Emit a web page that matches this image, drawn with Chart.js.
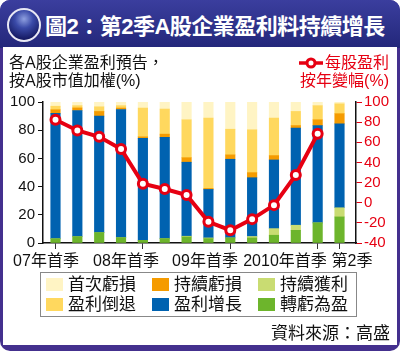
<!DOCTYPE html>
<html>
<head>
<meta charset="utf-8">
<script src="https://cdn.jsdelivr.net/npm/chart.js@4/dist/chart.umd.min.js"></script>
<style>
  body { margin: 0; background: #fff; }
  #frame { position: relative; width: 400px; height: 351px; background: #44308e; border-radius: 10px; overflow: hidden;
    font-family: 'Liberation Sans', 'Noto Sans CJK TC', sans-serif; }
  #bar { position: absolute; left: 0; top: 0; width: 400px; height: 48px; background: linear-gradient(#3b3e9e, #23277a); }
  #panel { position: absolute; left: 3px; top: 47px; width: 394px; height: 298px; background: #fff; }
  #ball { position: absolute; left: 7px; top: 8px; width: 30px; height: 30px; border-radius: 50%; border: 2px solid #e8e8f4;
    background: radial-gradient(circle at 50% 30%, #8fa0e0 0%, #3a4aa8 35%, #141860 80%); }
  #title { position: absolute; left: 45px; top: 8px; color: #fff; font-weight: bold; font-size: 22px; letter-spacing: -0.5px; white-space: nowrap; }
  canvas { position: absolute; left: 0; top: 0; }
  .txt { position: absolute; white-space: nowrap; font-size: 16px; line-height: 18px; }
  #lt { left: 9px; top: 54px; color: #111; }
  #rt { right: 11px; top: 54px; color: #e60012; text-align: right; }
  #legend { position: absolute; left: 40px; top: 272px; width: 315px; height: 43px; border: 1px solid #888; background: #fff; }
  .item { position: absolute; font-size: 17px; line-height: 20px; color: #111; }
  .sw { display: inline-block; width: 17px; height: 13px; margin-right: 5px; vertical-align: -1px; }
  #src { position: absolute; right: 10px; top: 319px; font-size: 17px; color: #111; }
</style>
</head>
<body>
<div id="frame">
  <div id="bar"></div>
  <div id="panel"></div>
  <div id="ball"></div>
  <div id="title">圖2：第2季A股企業盈利料持續增長</div>
  <canvas id="myChart" width="400" height="351"></canvas>
  <div class="txt" id="lt">各A股企業盈利預告，<br>按A股市值加權(%)</div>
  <div class="txt" id="rt"><svg width="24" height="12" style="vertical-align:-1px;margin-right:2px"><line x1="0" y1="6" x2="24" y2="6" stroke="#e60012" stroke-width="3.5"/><circle cx="12" cy="6" r="4" fill="#fff" stroke="#e60012" stroke-width="3"/></svg>每股盈利<br>按年變幅(%)</div>
  <div id="legend"></div>
  <div id="src">資料來源：高盛</div>
</div>
<script>
const quarters = ["07Q1", "07Q2", "07Q3", "07Q4", "08Q1", "08Q2", "08Q3", "08Q4",
  "09Q1", "09Q2", "09Q3", "09Q4", "10Q1", "10Q2"];

// stacked shares, bottom to top
const turnProfit = [3, 4.5, 7.4, 3.8, 1.9, 3.1, 4.3, 3.1, 3.6, 3.6, 5.5, 9, 14.3, 18.5];
const keepProfit = [0, 0, 0, 0, 0, 0, 0.5, 0.5, 0, 1, 4.7, 3.6, 0, 6.5];
const growth = [89, 89.5, 82.6, 90.9, 72.4, 71.9, 52.5, 34.4, 55.8, 41.7, 48.7, 68.9, 69, 59.5];
const keepLoss = [2.5, 1.8, 3.3, 1, 1, 2.2, 3.2, 0.7, 3.1, 3.6, 3.1, 1.8, 4.1, 7.2];
const decline = [2.5, 1.6, 3.3, 1.7, 20.4, 17.8, 26.9, 49.9, 18.2, 30.4, 26.6, 10, 10, 7];
const firstLoss = [3, 2.6, 3.4, 2.6, 4.3, 5, 12.6, 11.4, 19.3, 19.7, 11.4, 6.7, 2.6, 1.3];

// EPS yoy change (%), no value for the last quarter
const eps = [82.3, 71.7, 65.4, 53.4, 18.8, 13.6, 7.6, -19, -27.3, -16.3, -2.4, 27.5, 68.4];

const xTickAt = [0, 4, 8, 12, 13];
const xLabels = ["07年首季", "08年首季", "09年首季", "2010年首季", "第2季"];
const xLabelAt = [-0.435, 3.227, 6.844, 10.506, 13.575];

const series = [
  { label: "轉虧為盈", data: turnProfit, color: "#6db52c" },
  { label: "持續獲利", data: keepProfit, color: "#c9dc72" },
  { label: "盈利增長", data: growth, color: "#0062b0" },
  { label: "持續虧損", data: keepLoss, color: "#f59b00" },
  { label: "盈利倒退", data: decline, color: "#ffd85e" },
  { label: "首次虧損", data: firstLoss, color: "#fff4c4" },
];
const legendOrder = ["首次虧損", "持續虧損", "持續獲利", "盈利倒退", "盈利增長", "轉虧為盈"];

const red = "#e60012";
const xMin = -0.572, xMax = 13.755;
const fam = "'Liberation Sans', 'Noto Sans CJK TC', sans-serif";

let datasets = [{
  type: "line",
  label: "每股盈利",
  data: eps.map((v, i) => ({ x: i, y: v })),
  yAxisID: "y2",
  borderColor: red,
  borderWidth: 4,
  pointRadius: 4.5,
  pointBorderWidth: 3,
  pointBackgroundColor: "#fff",
  pointBorderColor: red,
  tension: 0,
}];
series.forEach((s) => {
  datasets.push({
    type: "bar",
    label: s.label,
    data: s.data.map((v, i) => ({ x: i, y: v })),
    yAxisID: "y",
    backgroundColor: s.color,
    barThickness: 9.5,
  });
});

// x labels sit off the tick marks, so write them at their own x values
const xLabelPlugin = {
  id: "xLabels",
  afterDraw(chart) {
    const c = chart.ctx;
    const sx = chart.scales.x;
    c.save();
    c.font = "16px " + fam;
    c.fillStyle = "#111";
    c.textAlign = "center";
    c.textBaseline = "middle";
    xLabels.forEach((t, i) => c.fillText(t, sx.getPixelForValue(xLabelAt[i]), 262));
    c.restore();
  },
};

const ctx = document.getElementById("myChart").getContext("2d");
const font = { family: fam, size: 15 };

new Chart(ctx, {
  data: { datasets: datasets },
  plugins: [xLabelPlugin],
  options: {
    responsive: false,
    animation: false,
    devicePixelRatio: 1,
    layout: { padding: { top: 102, left: 0, right: 0, bottom: 102 } },
    plugins: { legend: { display: false }, tooltip: { enabled: false } },
    scales: {
      x: {
        type: "linear", position: "bottom", min: xMin, max: xMax, stacked: true, offset: false,
        afterBuildTicks: (s) => { s.ticks = xTickAt.map((v) => ({ value: v })); },
        afterFit: (s) => { s.height = 6; },
        ticks: { display: false },
        grid: { offset: false, drawOnChartArea: false, drawTicks: true, tickLength: 6, color: "#333", lineWidth: 1 },
        border: { color: "#111", width: 1.5 },
      },
      y: {
        position: "left", min: 0, max: 100, stacked: true,
        afterFit: (s) => { s.width = 43; },
        ticks: { stepSize: 20, autoSkip: false, color: "#111", font: font, padding: 3 },
        grid: { drawOnChartArea: false, tickLength: 5, color: "#111" },
        border: { color: "#111", width: 1.5 },
      },
      y2: {
        position: "right", min: -40, max: 100,
        afterFit: (s) => { s.width = 44; },
        ticks: { stepSize: 20, autoSkip: false, color: red, font: font, padding: 2 },
        grid: { drawOnChartArea: false, tickLength: 6, color: red },
        border: { color: "#111", width: 1.5 },
      },
    },
  },
});

// legend box
const legend = document.getElementById("legend");
legendOrder.forEach((name, i) => {
  const s = series.find((d) => d.label === name);
  const el = document.createElement("div");
  el.className = "item";
  el.style.left = (5 + (i % 3) * 106) + "px";
  el.style.top = (2 + Math.floor(i / 3) * 20) + "px";
  el.innerHTML = '<span class="sw" style="background:' + s.color + '"></span>' + name;
  legend.appendChild(el);
});
</script>
</body>
</html>
